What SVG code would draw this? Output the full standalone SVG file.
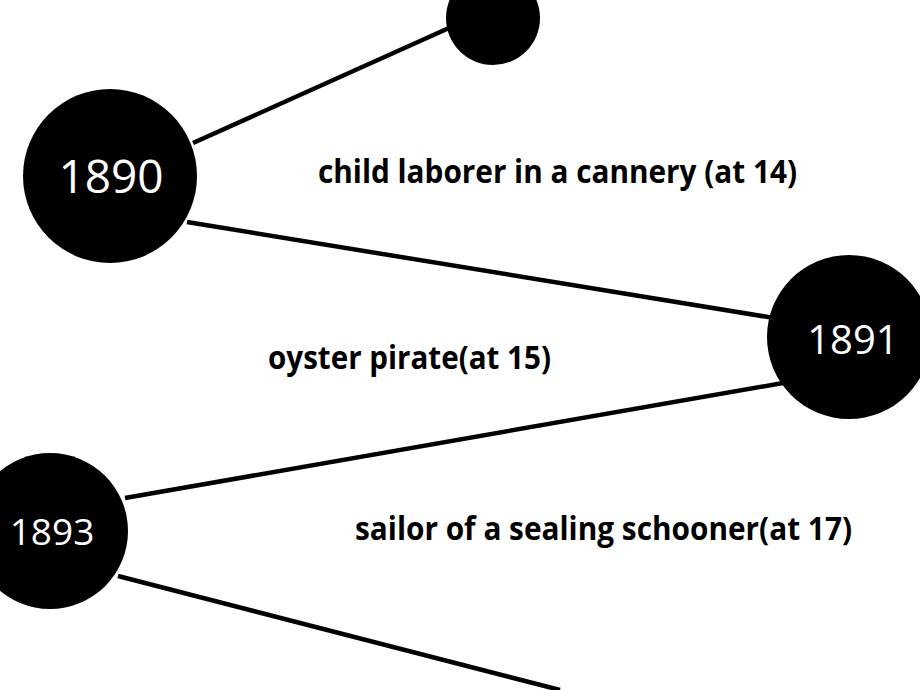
<svg xmlns="http://www.w3.org/2000/svg" width="920" height="690" viewBox="0 0 920 690">
<style>
.node{fill:#000}
.yr{fill:#fff;font-family:"Open Sans","Liberation Sans",sans-serif;text-anchor:middle}
.lbl{fill:#000;font-family:"Open Sans","Liberation Sans",sans-serif;font-weight:bold;font-size:33px}
.edge{stroke:#000;stroke-width:4.5;fill:none}
</style>
<rect width="920" height="690" fill="#fff"/>
<g id="connectors">
<line class="edge" x1="193" y1="143" x2="449" y2="28"/>
<line class="edge" x1="187" y1="222" x2="774" y2="318"/>
<line class="edge" x1="125" y1="498" x2="783" y2="383"/>
<line class="edge" x1="118" y1="576" x2="560" y2="690"/>
</g>
<g id="node-top"><circle class="node" cx="493" cy="18" r="47"/></g>
<g id="node-1890"><circle class="node" cx="110" cy="176" r="87"/><text class="yr" x="111" y="193" font-size="46">1890</text></g>
<g id="node-1891"><circle class="node" cx="849" cy="337" r="82"/><text class="yr" x="853" y="354" font-size="40">1891</text></g>
<g id="node-1893"><circle class="node" cx="50" cy="531" r="78"/><text class="yr" x="52" y="545" font-size="37">1893</text></g>
<g id="labels">
<text class="lbl" x="318" y="183" textLength="479" lengthAdjust="spacingAndGlyphs">child laborer in a cannery (at 14)</text>
<text class="lbl" x="268" y="369" textLength="283" lengthAdjust="spacingAndGlyphs">oyster pirate(at 15)</text>
<text class="lbl" x="355" y="540" textLength="497" lengthAdjust="spacingAndGlyphs">sailor of a sealing schooner(at 17)</text>
</g>
</svg>
